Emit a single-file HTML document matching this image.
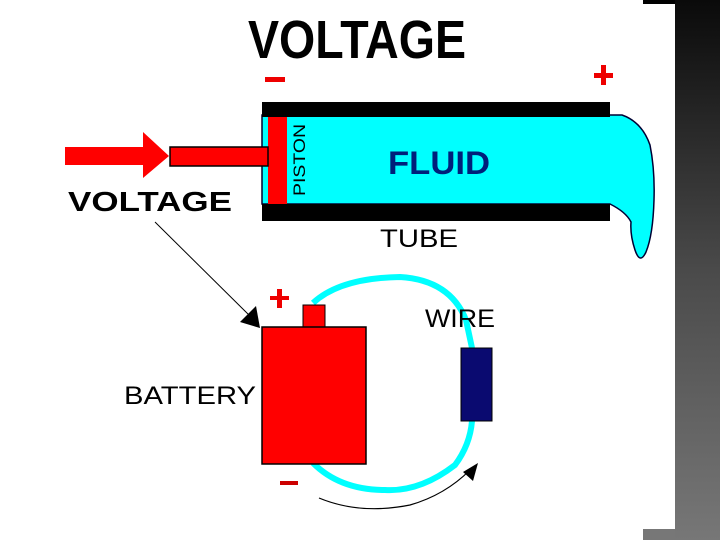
<!DOCTYPE html>
<html><head><meta charset="utf-8"><style>
html,body{margin:0;padding:0;background:#fff;width:720px;height:540px;overflow:hidden}
</style></head><body>
<svg width="720" height="540" xmlns="http://www.w3.org/2000/svg" style="position:absolute;left:0;top:0">
<defs>
<linearGradient id="g" x1="0" y1="0" x2="0" y2="1">
<stop offset="0" stop-color="#0a0a0a"/><stop offset="0.5" stop-color="#4a4a4a"/><stop offset="1" stop-color="#777"/>
</linearGradient>
</defs>
<rect x="675" y="0" width="45" height="540" fill="url(#g)"/>
<rect x="643" y="0" width="32" height="4" fill="#000"/>
<rect x="643" y="529" width="32" height="11" fill="#777"/>

<text x="357" y="58" font-family="Liberation Sans, sans-serif" font-weight="bold" font-size="54" text-anchor="middle" textLength="218" lengthAdjust="spacingAndGlyphs">VOLTAGE</text>
<rect x="265" y="77" width="20" height="5" fill="#e00"/>
<rect x="594" y="73" width="19" height="5" fill="#e00"/><rect x="601" y="65" width="5" height="20" fill="#e00"/>

<path d="M262 115 L622 115 Q642 122 650 145 Q655 170 654 200 Q653 235 646 252 Q640 265 635 250 Q630 235 631 222 Q626 212 610 204 L262 204 Z" fill="#0ff" stroke="#003" stroke-width="1.5"/>
<rect x="262" y="102" width="348" height="15" fill="#000"/>
<rect x="262" y="204" width="348" height="17" fill="#000"/>
<rect x="268" y="117" width="19" height="87" fill="#f00"/>
<text transform="translate(305,196) rotate(-90)" font-family="Liberation Sans, sans-serif" font-size="17" textLength="72" lengthAdjust="spacingAndGlyphs">PISTON</text>
<text x="388" y="174" font-family="Liberation Sans, sans-serif" font-weight="bold" font-size="32" fill="#00207a" textLength="102" lengthAdjust="spacingAndGlyphs">FLUID</text>

<rect x="170" y="147" width="98" height="19" fill="#f00" stroke="#000" stroke-width="1.5"/>
<rect x="65" y="147" width="79" height="18" fill="#f00"/>
<polygon points="143,132 143,178 169,156" fill="#f00"/>
<text x="68" y="211" font-family="Liberation Sans, sans-serif" font-weight="bold" font-size="28" textLength="164" lengthAdjust="spacingAndGlyphs">VOLTAGE</text>
<text x="380" y="247" font-family="Liberation Sans, sans-serif" font-size="25" textLength="78" lengthAdjust="spacingAndGlyphs">TUBE</text>

<path d="M313 303 Q340 278 400 277 Q450 280 466 320 L472 348" fill="none" stroke="#0ff" stroke-width="6"/>
<path d="M472 421 Q470 445 455 465 Q420 492 385 490 Q340 490 313 463" fill="none" stroke="#0ff" stroke-width="6"/>
<rect x="461" y="348" width="31" height="73" fill="#0a0a70" stroke="#000"/>
<text x="425" y="327" font-family="Liberation Sans, sans-serif" font-size="25" textLength="70" lengthAdjust="spacingAndGlyphs">WIRE</text>

<rect x="303" y="305" width="22" height="22" fill="#f00" stroke="#000"/>
<rect x="262" y="327" width="104" height="137" fill="#f00" stroke="#000" stroke-width="1.5"/>
<rect x="270" y="296" width="19" height="4" fill="#e00"/><rect x="277" y="289" width="5" height="19" fill="#e00"/>
<rect x="280" y="481" width="18" height="4" fill="#c00"/>
<text x="124" y="404" font-family="Liberation Sans, sans-serif" font-size="25" textLength="132" lengthAdjust="spacingAndGlyphs">BATTERY</text>

<line x1="155" y1="222" x2="252" y2="318" stroke="#000" stroke-width="1"/>
<polygon points="260,328 240,322 256,306" fill="#000"/>
<path d="M319 498 Q360 515 410 505 Q445 495 470 470" fill="none" stroke="#000" stroke-width="1.2"/>
<polygon points="478,463 463,472 473,481" fill="#000"/>
</svg>
</body></html>
